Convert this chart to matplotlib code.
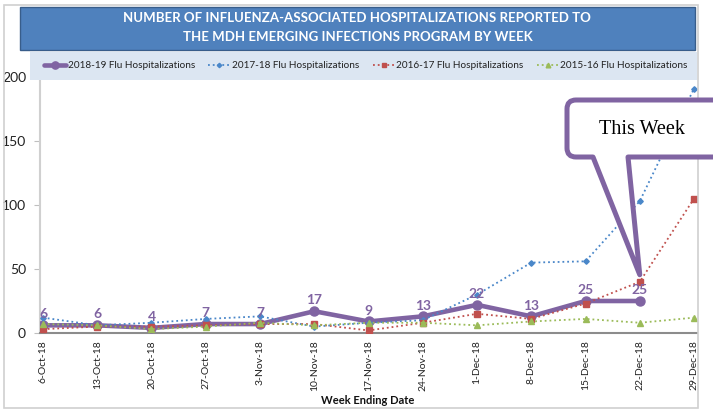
import matplotlib
matplotlib.use("Agg")
import matplotlib.pyplot as plt
from matplotlib.path import Path
from matplotlib.patches import PathPatch, Rectangle
from matplotlib.transforms import IdentityTransform
import numpy as np

plt.rcParams['font.family'] = ['Lato', 'DejaVu Sans']

weeks = ["6-Oct-18", "13-Oct-18", "20-Oct-18", "27-Oct-18", "3-Nov-18", "10-Nov-18",
         "17-Nov-18", "24-Nov-18", "1-Dec-18", "8-Dec-18", "15-Dec-18", "22-Dec-18", "29-Dec-18"]
flu_2018_19 = [6, 6, 4, 7, 7, 17, 9, 13, 22, 13, 25, 25]
flu_2017_18 = [12, 6, 8, 11, 13, 5, 8, 10, 30, 55, 56, 103, 191]
flu_2016_17 = [3, 5, 5, 6, 7, 7, 2, 8, 15, 11, 23, 40, 105]
flu_2015_16 = [7, 6, 3, 5, 8, 6, 8, 8, 6, 9, 11, 8, 12]
yticks = [0, 50, 100, 150, 200]

W, H = 713, 409
fig = plt.figure(figsize=(W / 100, H / 100), dpi=100)

def fx(px):
    return px / W

def fy(py):
    return 1 - py / H

# outer border
fig.patches.append(Rectangle((fx(4), fy(408)), fx(698) - fx(4), fy(5) - fy(408),
                             transform=fig.transFigure, fill=False,
                             edgecolor='#D0D0D0', lw=1.2, zorder=0))

ax = fig.add_axes([fx(40), fy(333), fx(697) - fx(40), fy(77) - fy(333)])
x = np.arange(len(weeks))

purple = '#8064A2'
blue = '#4A87C9'
red = '#C0504D'
green = '#9BBB59'

ax.plot(x[:len(flu_2018_19)], flu_2018_19, color=purple, lw=3.3, marker='o', ms=6.5,
        label='2018-19 Flu Hospitalizations', zorder=3, solid_capstyle='round')
ax.plot(x, flu_2017_18, color=blue, lw=1.3, ls=':', marker='D', ms=2.8,
        label='2017-18 Flu Hospitalizations', zorder=4)
ax.plot(x, flu_2016_17, color=red, lw=1.3, ls=':', marker='s', ms=3.8,
        label='2016-17 Flu Hospitalizations', zorder=4)
ax.plot(x, flu_2015_16, color=green, lw=1.3, ls=':', marker='^', ms=4.2,
        label='2015-16 Flu Hospitalizations', zorder=4)

for xi, v in zip(x, flu_2018_19):
    ax.annotate(str(v), (xi, v), xytext=(0, 7.8), textcoords='offset points',
                ha='center', va='center', color=purple, fontsize=10,
                fontweight='bold', zorder=6)

ax.set_xlim(-0.055, 12.055)
ax.set_ylim(0, 200)
ax.set_yticks(yticks)
ax.set_yticklabels([str(t) for t in yticks], fontsize=10, color='#222222')
ax.set_xticks(x)
ax.set_xticklabels(weeks, rotation=90, fontsize=7.5, color='#222222')
ax.tick_params(axis='x', length=0, pad=5)
ax.tick_params(axis='y', length=4, color='#BFBFBF', pad=6)
for s in ['top', 'right']:
    ax.spines[s].set_visible(False)
ax.spines['left'].set_color('#D0D0D0')
ax.spines['left'].set_linewidth(1.5)
ax.spines['bottom'].set_color('#8C8C8C')
ax.spines['bottom'].set_linewidth(1.5)
ax.patch.set_alpha(0)
fig.text(fx(368), fy(400), 'Week Ending Date', ha='center', va='center',
         fontsize=8, fontweight='bold', color='#111111')

# title banner
fig.patches.append(Rectangle((fx(20), fy(50)), fx(695) - fx(20), fy(7) - fy(50),
                             transform=fig.transFigure, facecolor='#4F81BD',
                             edgecolor='#385D8A', lw=1, zorder=1))
fig.text(fx(357), fy(18), 'NUMBER OF INFLUENZA-ASSOCIATED HOSPITALIZATIONS REPORTED TO',
         ha='center', va='center', color='white', fontsize=9.5, fontweight='bold')
fig.text(fx(358), fy(37), 'THE MDH EMERGING INFECTIONS PROGRAM BY WEEK',
         ha='center', va='center', color='white', fontsize=9.5, fontweight='bold')

# legend band
fig.patches.append(Rectangle((fx(30), fy(80)), fx(697) - fx(30), fy(52) - fy(80),
                             transform=fig.transFigure, facecolor='#DCE6F2',
                             edgecolor='none', zorder=1))
handles, labels = ax.get_legend_handles_labels()
leg = fig.legend(handles, labels, ncol=4, loc='center', bbox_to_anchor=(fx(366), fy(66)),
                 frameon=False, fontsize=7.2, handlelength=2.2, handletextpad=0.15,
                 columnspacing=1.35, markerscale=0.8)
for t in leg.get_texts():
    t.set_color('#222222')

# callout
fig.canvas.draw()
tipx, tipy = ax.transData.transform((11, 45.5))
tip_img = (tipx, H - tipy)
x0, x1, top, bot, r = 567, 724, 100, 157, 9
xa, xb = 593, 628
pts = [(x0 + r, top), (x1 - r, top), (x1, top), (x1, top + r), (x1, bot - r), (x1, bot),
       (x1 - r, bot), (xb, bot), tip_img, (xa, bot), (x0 + r, bot), (x0, bot), (x0, bot - r),
       (x0, top + r), (x0, top), (x0 + r, top), (x0 + r, top)]
codes = [Path.MOVETO, Path.LINETO, Path.CURVE3, Path.CURVE3, Path.LINETO, Path.CURVE3,
         Path.CURVE3, Path.LINETO, Path.LINETO, Path.LINETO, Path.LINETO, Path.CURVE3,
         Path.CURVE3, Path.LINETO, Path.CURVE3, Path.CURVE3, Path.CLOSEPOLY]
verts = [(px, H - py) for px, py in pts]
callout = PathPatch(Path(verts, codes), transform=IdentityTransform(), facecolor='white',
                    edgecolor=purple, lw=3.6, joinstyle='round', zorder=10)
fig.patches.append(callout)
fig.text(fx(642), fy(130), 'This Week', ha='center', va='center', fontsize=14.5,
         family=['Liberation Serif', 'DejaVu Serif'], color='black', zorder=11)

fig.savefig('out.png', dpi=100)
